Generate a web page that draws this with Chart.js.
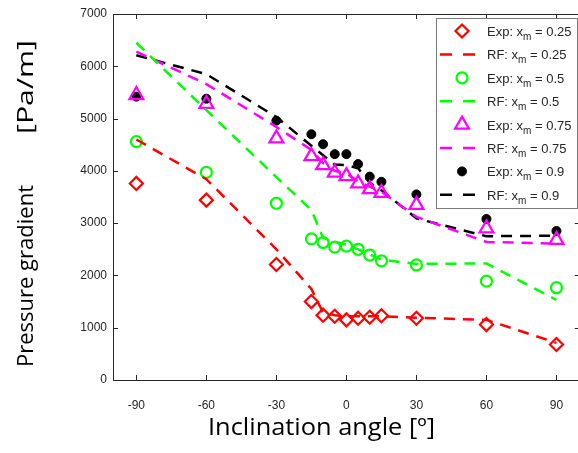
<!DOCTYPE html>
<html>
<head>
<meta charset="utf-8">
<script src="https://cdn.jsdelivr.net/npm/chart.js@4.4.0/dist/chart.umd.min.js"></script>
<style>
  html, body { margin: 0; padding: 0; overflow: hidden; background: #fff; }
  #wrap { width: 590px; height: 453px; }
</style>
</head>
<body>
<div id="wrap"><canvas id="c" width="590" height="453"></canvas></div>
<script>
// inclination angles (deg)
const angles = [-90, -60, -30, -15, -10, -5, 0, 5, 10, 15, 30, 60, 90];

// measured (Exp) and random-forest (RF) pressure gradients, Pa/m
const exp025 = [3760, 3440, 2210, 1500, 1240, 1220, 1150, 1180, 1200, 1230, 1180, 1060, 680];
const rf025  = [4600, 3840, 2500, 1740, 1290, 1240, 1220, 1220, 1220, 1220, 1190, 1150, 710];
const exp05  = [4560, 3970, 3380, 2700, 2630, 2540, 2560, 2500, 2390, 2280, 2200, 1890, 1765];
const rf05   = [6450, 5160, 3880, 3250, 2720, 2640, 2590, 2500, 2400, 2300, 2220, 2230, 1530];
const exp075 = [5450, 5280, 4620, 4280, 4110, 3965, 3900, 3760, 3650, 3580, 3350, 2900, 2680];
const rf075  = [6280, 5660, 4840, 4400, 4150, 4000, 3950, 3800, 3700, 3600, 3120, 2640, 2610];
const exp09  = [5420, 5380, 4960, 4700, 4510, 4320, 4320, 4130, 3890, 3790, 3550, 3080, 2850];
const rf09   = [6210, 5850, 5030, 4480, 4300, 4120, 4110, 4050, 3770, 3630, 3090, 2750, 2760];

const fractions = ['0.25', '0.5', '0.75', '0.9'];
const xTicks = [-90, -60, -30, 0, 30, 60, 90];
const yTicks = [0, 1000, 2000, 3000, 4000, 5000, 6000, 7000];

const AXIS = '#262626';
const TICK_FONT = { family: 'Liberation Sans, Arial, sans-serif', size: 12 };

const pts = vals => vals.map((v, i) => ({ x: angles[i], y: v }));

function expSet(frac, vals, color, style, radius, filled) {
  return {
    label: 'Exp: xm = ' + frac, kind: 'exp', frac,
    data: pts(vals), showLine: false,
    pointStyle: style, pointRadius: radius, pointHoverRadius: radius,
    borderColor: color, backgroundColor: filled ? color : 'rgba(0,0,0,0)',
    pointBorderWidth: filled ? 1 : 2.2, borderWidth: filled ? 1 : 2.2
  };
}
function rfSet(frac, vals, color) {
  return {
    label: 'RF: xm = ' + frac, kind: 'rf', frac,
    data: pts(vals), showLine: true, pointRadius: 0, pointHoverRadius: 0,
    borderColor: color, backgroundColor: color, borderWidth: 2.5,
    borderDash: [11, 8], tension: 0, fill: false
  };
}

const datasets = [
  expSet(fractions[0], exp025, '#ff0000', 'rectRot', 6.5, false),
  rfSet(fractions[0], rf025, '#ff0000'),
  expSet(fractions[1], exp05, '#00ff00', 'circle', 5.5, false),
  rfSet(fractions[1], rf05, '#00ff00'),
  expSet(fractions[2], exp075, '#ff00ff', 'triangle', 8, false),
  rfSet(fractions[2], rf075, '#ff00ff'),
  expSet(fractions[3], exp09, '#000000', 'circle', 4.5, true),
  rfSet(fractions[3], rf09, '#000000')
];

// box + inward ticks, MATLAB style
const frame = {
  id: 'frame',
  beforeDatasetsDraw(chart) {
    const { ctx, chartArea: a, scales: { x, y } } = chart;
    ctx.save();
    ctx.strokeStyle = AXIS;
    ctx.lineWidth = 1;
    ctx.beginPath();
    ctx.rect(Math.round(a.left) + 0.5, Math.round(a.top) + 0.5,
      Math.round(a.right - a.left), Math.round(a.bottom - a.top));
    x.ticks.forEach(t => {
      const p = Math.round(x.getPixelForValue(t.value)) + 0.5;
      ctx.moveTo(p, a.bottom); ctx.lineTo(p, a.bottom - 5);
      ctx.moveTo(p, a.top); ctx.lineTo(p, a.top + 5);
    });
    y.ticks.forEach(t => {
      const p = Math.round(y.getPixelForValue(t.value)) + 0.5;
      ctx.moveTo(a.left, p); ctx.lineTo(a.left + 5, p);
      ctx.moveTo(a.right, p); ctx.lineTo(a.right - 5, p);
    });
    ctx.stroke();
    ctx.restore();
  }
};

// text squeezed/stretched along its run to a target length
function fitText(ctx, text, x, y, len) {
  const w = ctx.measureText(text).width;
  ctx.save();
  ctx.translate(x, y);
  ctx.scale(len / w, 1);
  ctx.fillText(text, 0, 0);
  ctx.restore();
}

// axis titles
const titles = {
  id: 'titles',
  afterDraw(chart) {
    const ctx = chart.ctx;
    ctx.save();
    ctx.fillStyle = '#000';
    ctx.textBaseline = 'alphabetic';
    ctx.textAlign = 'left';
    ctx.font = '23px "Open Sans", sans-serif';
    fitText(ctx, 'Inclination angle [º]', 208, 435, 227);
    ctx.translate(32.5, 0);
    ctx.rotate(-Math.PI / 2);
    ctx.font = '22px "Open Sans", sans-serif';
    fitText(ctx, 'Pressure gradient', -367, 0, 182);
    ctx.font = '22px "Open Sans", sans-serif';
    fitText(ctx, '[Pa/m]', -134, 0, 94);
    ctx.restore();
  }
};

// legend with subscript m
const legendBox = {
  id: 'legendBox',
  afterDraw(chart) {
    const ctx = chart.ctx;
    const left = 436, top = 18, right = 577, rowH = 23.4, firstRow = 31;
    ctx.save();
    ctx.fillStyle = '#fff';
    ctx.fillRect(left, top, right - left, 190);
    ctx.strokeStyle = '#7a7a7a';
    ctx.lineWidth = 1;
    ctx.strokeRect(left + 0.5, top + 0.5, right - left, 190);
    chart.data.datasets.forEach((ds, i) => {
      const yc = firstRow + i * rowH;
      if (ds.kind === 'exp') {
        ctx.strokeStyle = ds.borderColor;
        ctx.fillStyle = ds.backgroundColor;
        ctx.lineWidth = ds.pointBorderWidth;
        Chart.helpers.drawPoint(ctx, {
          pointStyle: ds.pointStyle, radius: ds.pointRadius,
          rotation: 0, borderWidth: ds.pointBorderWidth
        }, 462, yc);
      } else {
        ctx.strokeStyle = ds.borderColor;
        ctx.lineWidth = ds.borderWidth;
        ctx.setLineDash([12, 11]);
        ctx.beginPath();
        ctx.moveTo(440, yc); ctx.lineTo(476, yc);
        ctx.stroke();
        ctx.setLineDash([]);
      }
      ctx.fillStyle = AXIS;
      ctx.textBaseline = 'alphabetic';
      ctx.textAlign = 'left';
      let tx = 487;
      const base = yc + 5;
      const pre = (ds.kind === 'exp' ? 'Exp' : 'RF') + ': x';
      ctx.font = '13px "Liberation Sans", Arial, sans-serif';
      ctx.fillText(pre, tx, base);
      tx += ctx.measureText(pre).width;
      ctx.font = '10px "Liberation Sans", Arial, sans-serif';
      ctx.fillText('m', tx, base + 4);
      tx += ctx.measureText('m').width;
      ctx.font = '13px "Liberation Sans", Arial, sans-serif';
      ctx.fillText(' = ' + ds.frac, tx, base);
    });
    ctx.restore();
  }
};

new Chart(document.getElementById('c'), {
  type: 'scatter',
  data: { datasets },
  options: {
    responsive: false,
    animation: false,
    events: [],
    layout: { padding: { left: 0, top: 14, right: 0, bottom: 0 } },
    plugins: { legend: { display: false }, tooltip: { enabled: false } },
    scales: {
      x: {
        type: 'linear', min: -100, max: 100,
        afterBuildTicks: s => { s.ticks = xTicks.map(v => ({ value: v })); },
        afterFit: s => { s.height = 73; },
        grid: { display: false }, border: { display: false },
        ticks: { color: AXIS, font: TICK_FONT, padding: 10, maxRotation: 0, callback: v => String(v) }
      },
      y: {
        type: 'linear', min: 0, max: 7000,
        afterBuildTicks: s => { s.ticks = yTicks.map(v => ({ value: v })); },
        afterFit: s => { s.width = 113; },
        grid: { display: false }, border: { display: false },
        ticks: { color: AXIS, font: TICK_FONT, padding: -2, callback: v => String(v) }
      }
    }
  },
  plugins: [frame, titles, legendBox]
});
</script>
</body>
</html>
